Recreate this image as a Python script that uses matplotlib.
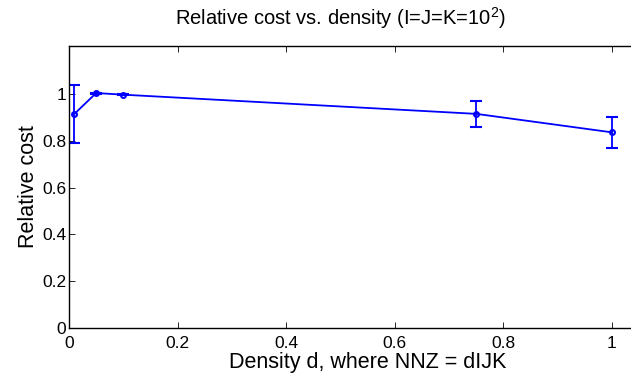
import matplotlib
matplotlib.use("Agg")
import matplotlib.pyplot as plt

density = [0.01, 0.05, 0.1, 0.75, 1.0]
rel_cost = [0.915, 1.004, 0.997, 0.915, 0.836]
err = [0.124, 0.002, 0.002, 0.054, 0.067]
xticks = [0, 0.2, 0.4, 0.6, 0.8, 1.0]
xticklabels = ["0", "0.2", "0.4", "0.6", "0.8", "1"]
yticks = [0, 0.2, 0.4, 0.6, 0.8, 1.0]
yticklabels = ["0", "0.2", "0.4", "0.6", "0.8", "1"]

plt.rcParams['font.family'] = ['Liberation Sans', 'DejaVu Sans']
plt.rcParams['mathtext.fontset'] = 'custom'
plt.rcParams['mathtext.rm'] = 'Liberation Sans'
plt.rcParams['mathtext.it'] = 'Liberation Sans'

fig = plt.figure(figsize=(6.31, 3.79), dpi=100)
ax = fig.add_axes([69/631, 51/379, 1.1*543/631, 282/379])

ax.errorbar(density, rel_cost, yerr=err, color='#0000ff', lw=1.3,
            marker='o', ms=3.5, mfc='none', mew=1.5, capsize=4, capthick=1.3,
            elinewidth=1.3)

ax.set_xlim(0, 1.1)
ax.set_ylim(0, 1.205)
ax.set_xticks(xticks)
ax.set_xticklabels(xticklabels)
ax.set_yticks(yticks)
ax.set_yticklabels(yticklabels)
ax.tick_params(direction='in', length=4, width=0.6, top=True, right=True,
               labelsize=12.5)
ax.tick_params(axis='x', pad=6)
ax.tick_params(axis='y', pad=2)
for s in ax.spines.values():
    s.set_linewidth(1.0)

ax.set_xlabel('Density d, where NNZ = dIJK', fontsize=15.5, labelpad=0.5)
ax.set_ylabel('Relative cost', fontsize=15.5, labelpad=2)
fig.text(340/631, 1 - 18/379, r'Relative cost vs. density (I=J=K=10$^{2}$)',
         ha='center', va='center', fontsize=14.5)

fig.savefig('out.png', dpi=100)
